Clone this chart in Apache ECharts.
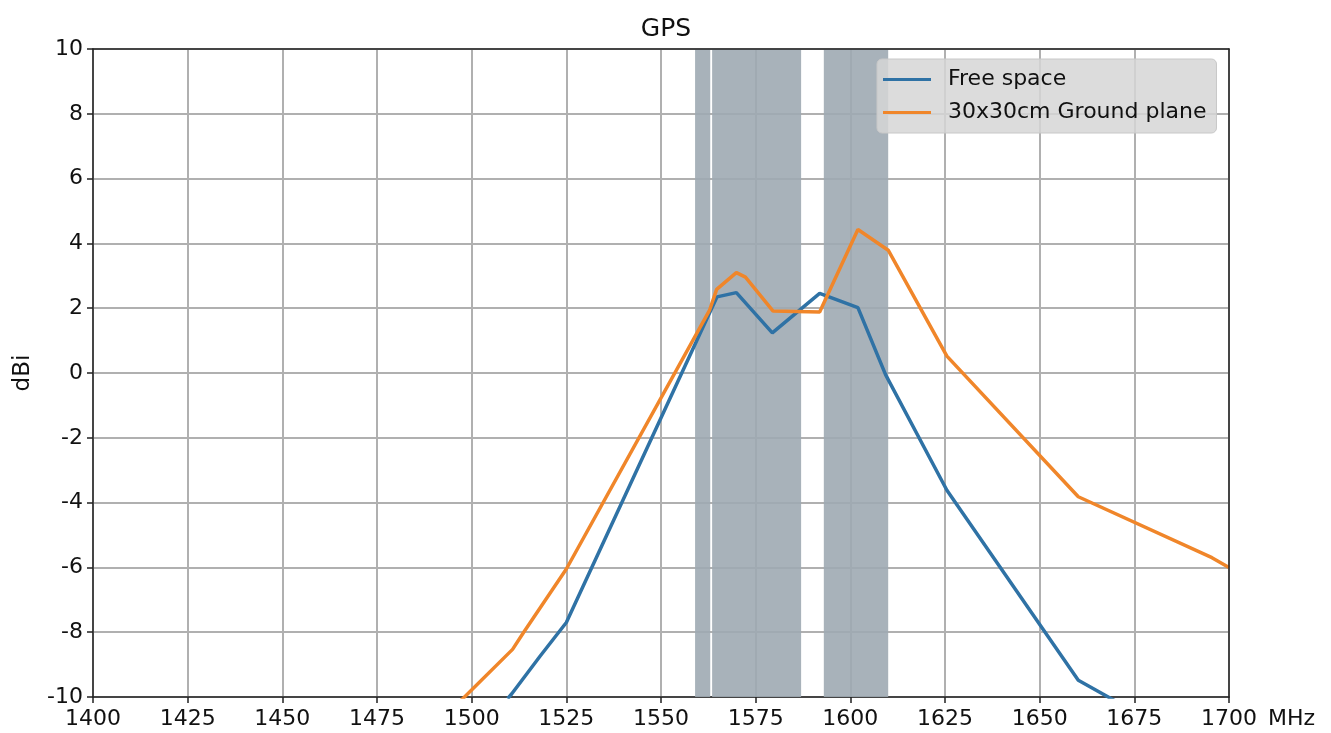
<!DOCTYPE html>
<html>
<head>
<meta charset="utf-8">
<script src="https://cdn.jsdelivr.net/npm/echarts@6/dist/echarts.min.js"></script>
<style>html,body{margin:0;padding:0;background:#fff;}#c{width:1331px;height:733px;}</style>
</head>
<body>
<div id="c"></div>
<script>
const xTicks = [1400, 1425, 1450, 1475, 1500, 1525, 1550, 1575, 1600, 1625, 1650, 1675, 1700];
const yTicks = [-10, -8, -6, -4, -2, 0, 2, 4, 6, 8, 10];

const freeFreq = [1509.5, 1510.6, 1518, 1525, 1564.8, 1569.9, 1579.4, 1591.9, 1602, 1609.3, 1625.5, 1660.2, 1695.5];
const freeGain = [-10.05, -9.9, -8.75, -7.7, 2.35, 2.48, 1.24, 2.46, 2.02, -0.05, -3.62, -9.48, -11.8];

const gpFreq = [1495, 1510.8, 1513.7, 1525, 1562.8, 1564.7, 1569.9, 1572.3, 1579.6, 1591.9, 1602, 1610, 1625.5, 1660.2, 1695.5, 1700];
const gpGain = [-10.36, -8.53, -8.01, -6.05, 1.93, 2.58, 3.10, 2.96, 1.91, 1.88, 4.43, 3.79, 0.52, -3.82, -5.7, -6.0];

const bands = [[1559, 1563], [1563.5, 1587], [1593, 1610]];

const seriesNames = ['Free space', '30x30cm Ground plane'];

const FONT = 'DejaVu Sans';
const chart = echarts.init(document.getElementById('c'));
const zip = (a, b) => a.map((v, i) => [v, b[i]]);
const frameAxis = {
  show: true, axisLine: {show: true, onZero: false, lineStyle: {color: '#222', width: 1.5}},
  axisTick: {show: false}, axisLabel: {show: false}, splitLine: {show: false}
};

chart.setOption({
  animation: false,
  backgroundColor: '#fff',
  title: {
    text: 'GPS', left: 661, top: 12, textAlign: 'center',
    textStyle: {fontFamily: FONT, fontSize: 25, fontWeight: 'normal', color: '#111'}
  },
  grid: {left: 93, top: 49, right: 102, bottom: 36, outerBoundsMode: 'none', containLabel: false,
    show: false},
  legend: {
    orient: 'vertical', left: 877, top: 59, z: 10,
    backgroundColor: 'rgba(214,214,214,0.85)', borderColor: '#c8c8c8', borderWidth: 1, borderRadius: 5,
    padding: [8, 10, 8, 6], itemWidth: 48, itemHeight: 3, itemGap: 8, icon: 'rect',
    textStyle: {fontFamily: FONT, fontSize: 22, lineHeight: 25, color: '#111', padding: [0, 0, 0, 12]},
    data: seriesNames
  },
  xAxis: [{
    type: 'value', min: xTicks[0], max: xTicks[xTicks.length - 1], interval: 25,
    name: 'MHz', nameLocation: 'end', nameGap: 39,
    nameTextStyle: {fontFamily: FONT, fontSize: 22, color: '#111', verticalAlign: 'top', padding: [11, 0, 0, 0]},
    axisLine: {show: true, onZero: false, lineStyle: {color: '#222', width: 1.5}},
    axisTick: {show: true, inside: false, length: 6, lineStyle: {color: '#222', width: 1.5}},
    axisLabel: {fontFamily: FONT, fontSize: 22, color: '#111', margin: 11, formatter: v => String(v)},
    splitLine: {show: true, lineStyle: {color: '#b0b0b0', width: 2}}
  }, Object.assign({type: 'value', position: 'top', min: xTicks[0], max: xTicks[xTicks.length - 1], z: 5}, frameAxis)],
  yAxis: [{
    type: 'value', min: yTicks[0], max: yTicks[yTicks.length - 1], interval: 2,
    name: 'dBi', nameLocation: 'middle', nameGap: 58,
    nameTextStyle: {fontFamily: FONT, fontSize: 23, color: '#111'},
    axisLine: {show: true, onZero: false, lineStyle: {color: '#222', width: 1.5}},
    axisTick: {show: true, inside: false, length: 6, lineStyle: {color: '#222', width: 1.5}},
    axisLabel: {fontFamily: FONT, fontSize: 22, color: '#111', margin: 10, formatter: v => String(v)},
    splitLine: {show: true, lineStyle: {color: '#b0b0b0', width: 2}}
  }, Object.assign({type: 'value', position: 'right', min: yTicks[0], max: yTicks[yTicks.length - 1], z: 5}, frameAxis)],
  series: [
    {
      name: seriesNames[0], type: 'line', data: zip(freeFreq, freeGain), symbol: 'none', clip: true,
      lineStyle: {color: '#2f72a5', width: 3.5}, itemStyle: {color: '#2f72a5'}, z: 3,
      markArea: {
        silent: true,
        itemStyle: {color: 'rgba(159,170,178,0.9)'},
        data: bands.map(b => [{xAxis: b[0]}, {xAxis: b[1]}])
      }
    },
    {
      name: seriesNames[1], type: 'line', data: zip(gpFreq, gpGain), symbol: 'none', clip: true,
      lineStyle: {color: '#f0862a', width: 3.5}, itemStyle: {color: '#f0862a'}, z: 4
    }
  ]
});
</script>
</body>
</html>
